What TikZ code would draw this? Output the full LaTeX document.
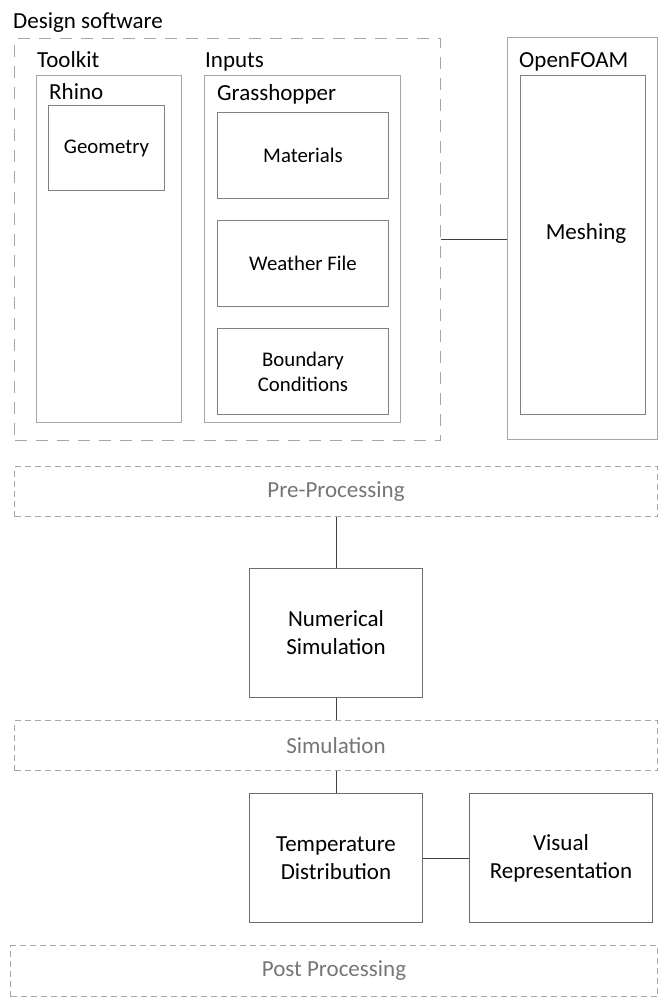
\documentclass[tikz,border=0pt]{standalone}
\usepackage{fontspec}
\setmainfont{Carlito}
\definecolor{cout}{HTML}{A6A6A6}
\definecolor{cin}{HTML}{808080}
\definecolor{cline}{HTML}{404040}
\definecolor{cphase}{HTML}{767676}
\begin{document}
\begin{tikzpicture}[x=1pt,y=-1pt,
  big/.style={font=\fontsize{23}{28}\selectfont},
  small/.style={font=\fontsize{20.8}{25}\selectfont},
  box/.style={draw=cin, line width=1pt, anchor=north west, inner sep=0pt, align=center, text=black},
  outerbox/.style={box, draw=cout},
  groupbox/.style={draw=cout, line width=1pt, dash pattern=on 12pt off 9pt, anchor=north west, inner sep=0pt},
  phasebox/.style={draw=cout, line width=1pt, dash pattern=on 6pt off 4pt, anchor=north west, inner sep=0pt, text=cphase, big},
  title/.style={anchor=base west, inner sep=0pt, big, text=black},
  conn/.style={draw=cline, line width=1pt}
]
\useasboundingbox (0,0) rectangle (667,1004);

% Design software group
\node[groupbox, minimum width=426pt, minimum height=402pt] (design) at (14,38) {};
\node[title] (designlbl) at (13,28) {Design software};

\node[outerbox, minimum width=145pt, minimum height=347pt] (toolkit) at (36,75) {};
\node[title] (toolkitlbl) at (37,67) {Toolkit};
\node[title] (rhinolbl) at (49,99) {Rhino};
\node[box, small, minimum width=116pt, minimum height=85pt] (geometry) at (48,105) {Geometry};

\node[outerbox, minimum width=196pt, minimum height=347pt] (inputs) at (204,75) {};
\node[title] (inputslbl) at (205,67) {Inputs};
\node[title] (grasslbl) at (217,100) {Grasshopper};
\node[box, small, minimum width=171pt, minimum height=86pt] (materials) at (217,112) {Materials};
\node[box, small, minimum width=171pt, minimum height=86pt] (weather) at (217,220) {Weather File};
\node[box, small, minimum width=171pt, minimum height=86pt] (boundary) at (217,328) {Boundary\\Conditions};

% OpenFOAM
\node[outerbox, minimum width=150pt, minimum height=402pt] (openfoam) at (507,37) {};
\node[title] (openfoamlbl) at (519,67) {OpenFOAM};
\node[box, minimum width=125pt, minimum height=339pt] (meshing) at (520,75) {};
\node[big, inner sep=0pt] (meshinglbl) at (586,233) {Meshing};

\draw[conn] (design.east) -- (design.east -| openfoam.west);

% Phases
\node[phasebox, minimum width=643pt, minimum height=50pt] (pre) at (14,466) {Pre-Processing};
\node[box, big, draw=cin!85!black, minimum width=173pt, minimum height=129pt] (numsim) at (249,568) {Numerical\\Simulation};
\node[phasebox, minimum width=643pt, minimum height=50pt] (sim) at (14,720) {Simulation};
\node[box, big, draw=cin!85!black, minimum width=173pt, minimum height=129pt] (temp) at (249,793) {Temperature\\Distribution};
\node[box, big, draw=cin!85!black, minimum width=183pt, minimum height=129pt] (visual) at (469,793) {Visual\\Representation};
\node[phasebox, minimum width=647pt, minimum height=51pt] (post) at (10,945) {Post Processing};

\draw[conn] (pre.south -| numsim.north) -- (numsim.north);
\draw[conn] (numsim.south) -- (numsim.south |- sim.north);
\draw[conn] (sim.south -| temp.north) -- (temp.north);
\draw[conn] (temp.east) -- (visual.west);
\end{tikzpicture}
\end{document}
